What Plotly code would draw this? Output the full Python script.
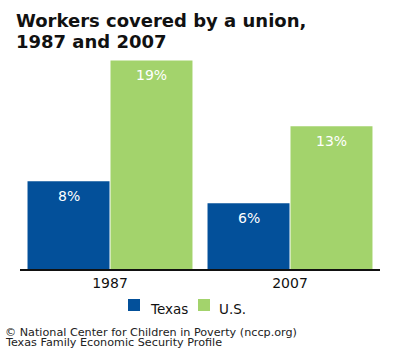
import plotly.graph_objects as go

years = ["1987", "2007"]
series_names = ["Texas", "U.S."]
texas = [8, 6]
us = [19, 13]
texas_labels = ["8%", "6%"]
us_labels = ["19%", "13%"]

BLUE = "#03509A"
GREEN = "#A3D36C"
INK = "#111111"
FONT = "DejaVu Sans, Verdana, sans-serif"

# plot area geometry (pixels) used to place titles, legend and notes
L, R, T, B = 20, 20, 55, 81
W, H = 400, 350
PW, PH = W - L - R, H - T - B


def px_x(px):
    return (px - L) / PW


def px_y(py):
    return (H - B - py) / PH


fig = go.Figure()
for name, vals, color in [(series_names[0], texas, BLUE), (series_names[1], us, GREEN)]:
    fig.add_trace(go.Bar(x=years, y=vals, name=name, marker_color=color,
                         marker_line_width=0, showlegend=False, hoverinfo="x+y"))

# value labels just inside the top of each bar (x given as category index)
for vals, labels, shift in [(texas, texas_labels, -41.5), (us, us_labels, 41.5)]:
    for i, (v, lab) in enumerate(zip(vals, labels)):
        fig.add_annotation(x=i, y=v, text=lab, showarrow=False, xshift=shift,
                           yshift=-15, yanchor="middle",
                           font=dict(family=FONT, size=14, color="white"))

fig.update_layout(
    width=W, height=H,
    margin=dict(l=L, r=R, t=T, b=B, autoexpand=False),
    paper_bgcolor="white", plot_bgcolor="white",
    barmode="group", bargap=0.078, bargroupgap=0.012,
    font=dict(family=FONT, color=INK, size=14),
    xaxis=dict(type="category", range=[-0.5, 1.5], showline=True,
               linecolor=INK, linewidth=2, ticks="",
               tickfont=dict(size=14, color=INK), showgrid=False,
               fixedrange=True, automargin=False),
    yaxis=dict(range=[0, 19.5], visible=False, showgrid=False, fixedrange=True),
    showlegend=False,
)

# title, two lines
for txt, cy in [("Workers covered by a union,", 20), ("1987 and 2007", 41)]:
    fig.add_annotation(text="<b>" + txt + "</b>", xref="paper", yref="paper",
                       x=px_x(14), y=px_y(cy), xanchor="left", yanchor="middle",
                       showarrow=False,
                       font=dict(family=FONT, size=18, color=INK))

# legend: colour squares with series names
for name, color, sq_x, txt_x in [(series_names[0], BLUE, 128, 148),
                                  (series_names[1], GREEN, 198, 217)]:
    fig.add_shape(type="rect", xref="paper", yref="paper",
                  x0=px_x(sq_x), x1=px_x(sq_x + 12), y0=px_y(311), y1=px_y(299),
                  fillcolor=color, line_width=0)
    fig.add_annotation(text=name, xref="paper", yref="paper",
                       x=px_x(txt_x), y=px_y(308.5), xanchor="left", yanchor="middle",
                       showarrow=False,
                       font=dict(family=FONT, size=13.5, color=INK))

# source notes
for txt, cy in [("© National Center for Children in Poverty (nccp.org)", 332),
                ("Texas Family Economic Security Profile", 342.5)]:
    fig.add_annotation(text=txt, xref="paper", yref="paper",
                       x=px_x(3), y=px_y(cy), xanchor="left", yanchor="middle",
                       showarrow=False,
                       font=dict(family=FONT, size=11.2, color="#222222"))

fig.write_html("out.html")
